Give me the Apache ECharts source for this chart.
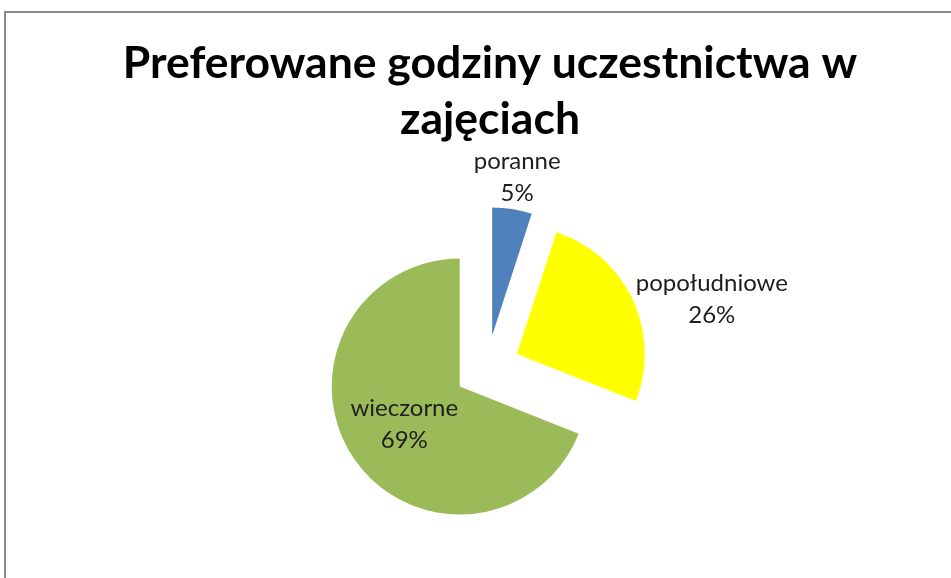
<!DOCTYPE html>
<html>
<head>
<meta charset="utf-8">
<script src="https://cdn.jsdelivr.net/npm/echarts@6/dist/echarts.min.js"></script>
<style>
html,body{margin:0;padding:0;background:#fff;}
#chart{width:951px;height:578px;}
</style>
</head>
<body>
<div id="chart"></div>
<script>
const titleText = 'Preferowane godziny uczestnictwa w\nzajęciach';
const categories = ['poranne', 'popołudniowe', 'wieczorne'];
const values = [5, 26, 69];
const colors = ['#4F81BD', '#FFFF00', '#9BBB59'];
const labelPositions = ['outside', 'outside', 'inside'];

const chart = echarts.init(document.getElementById('chart'), null, {renderer: 'canvas'});
const fontFam = 'Lato, "Open Sans", sans-serif';

const data = categories.map((c, i) => ({
  name: c,
  value: values[i],
  selected: true,
  itemStyle: {color: colors[i]},
  label: {position: labelPositions[i]}
}));

chart.setOption({
  animation: false,
  backgroundColor: '#fff',
  graphic: [{
    type: 'rect',
    shape: {x: 5, y: 12, width: 1000, height: 700},
    style: {fill: 'none', stroke: '#8a8a8a', lineWidth: 2},
    silent: true
  }],
  title: {
    text: titleText,
    left: 485,
    top: 31,
    textAlign: 'center',
    textStyle: {
      fontFamily: fontFam,
      fontWeight: 'bold',
      fontSize: 44.5,
      lineHeight: 56,
      color: '#000'
    }
  },
  series: [{
    type: 'pie',
    center: [487, 368],
    radius: 128,
    startAngle: 90,
    clockwise: true,
    selectedMode: 'multiple',
    selectedOffset: 33,
    silent: true,
    emphasis: {disabled: true},
    itemStyle: {borderWidth: 0},
    label: {
      show: true,
      formatter: '{b}\n{d}%',
      fontFamily: fontFam,
      fontSize: 24,
      lineHeight: 32,
      color: '#1e1e1e'
    },
    labelLine: {show: false, length: 0, length2: 0},
    labelLayout: function (p) {
      if (p.dataIndex === 0) {
        return {align: 'center', verticalAlign: 'bottom', dy: 0};
      }
      if (p.dataIndex === 1) {
        return {align: 'center', dx: p.labelRect.width / 2 - 2};
      }
      return {};
    },
    data: data
  }]
});
</script>
</body>
</html>
